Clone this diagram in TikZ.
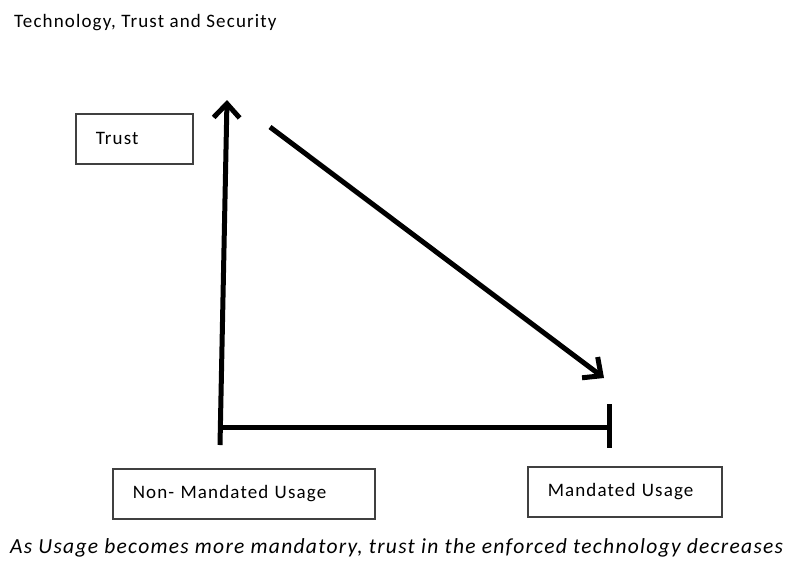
\documentclass[tikz,border=0pt]{standalone}
\usepackage{fontspec}
\setmainfont{Carlito}[LetterSpace=6]
\usetikzlibrary{arrows.meta}
\begin{document}
\begin{tikzpicture}[x=1pt,y=-1pt,
  labelbox/.style={draw=black!75, line width=1.5pt, rectangle, inner xsep=20pt,
    inner ysep=0pt, align=left, minimum height=#1, font=\fontsize{19}{22}\selectfont},
  labelbox/.default=50pt,
  axis/.style={line width=5pt, line cap=butt},
  trend/.style={line width=5pt, -{Straight Barb[length=14pt, width=26pt, line width=5pt]}}]
  \useasboundingbox (0,0) rectangle (792,566);

  % heading
  \node[anchor=base west, inner sep=0pt, font=\fontsize{19}{22}\selectfont] (title) at (14,27) {Technology, Trust and Security};

  % axis labels
  \node[labelbox, text width=77pt, anchor=north west] (trust) at (75,113) {Trust};
  \node[labelbox, text width=222pt, anchor=north west] (nonmand) at (112,468) {Non- Mandated Usage};
  \node[labelbox, text width=154pt, anchor=north west] (mand) at (527,466) {Mandated Usage};

  % axes
  \coordinate (ybot) at (220,445);
  \coordinate (ytop) at (227,100);
  \coordinate (xl) at (220,427);
  \coordinate (xr) at (609,427);
  \coordinate (tickT) at (609,404);
  \coordinate (tickB) at (609,448);
  \draw[trend] (ybot) -- (ytop);
  \draw[axis] (xl) -- (xr);
  \draw[axis] (tickT) -- (tickB);

  % falling trust
  \coordinate (dstart) at (270,127);
  \coordinate (dend) at (604,378);
  \draw[trend] (dstart) -- (dend);

  % caption
  \node[anchor=base west, inner sep=0pt, font=\fontsize{21.5}{26}\selectfont\itshape] (caption) at (10,553)
    {As Usage becomes more mandatory, trust in the enforced technology decreases};
\end{tikzpicture}
\end{document}
